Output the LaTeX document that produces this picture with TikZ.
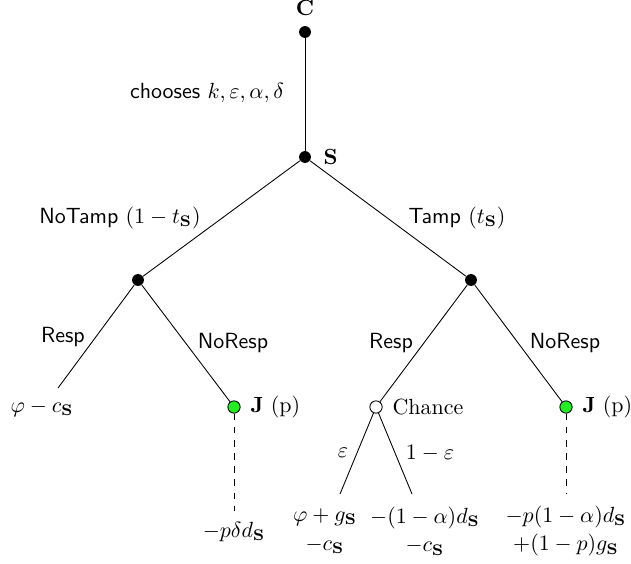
\documentclass[tikz,border=0pt]{standalone}
\usepackage{amsmath}
\usetikzlibrary{positioning}
\definecolor{jugGreen}{HTML}{22EE22}

\tikzset{
  decision/.style={circle, fill=black, inner sep=0pt, minimum size=5.4pt},
  chancenode/.style={circle, draw=black, fill=white, inner sep=0pt, minimum size=5.6pt},
  judge/.style={circle, draw=black, fill=jugGreen, inner sep=0pt, minimum size=5.6pt},
  movelabel/.style={font=\sffamily},
  payoff/.style={align=center, inner sep=1pt}
}

\begin{document}
\begin{tikzpicture}[x=0.016cm, y=-0.016cm]
    \useasboundingbox (0,0) rectangle (631,563);
    % players
    \node[decision] (C) at (305,32) {};
    \node[decision] (S) at (305,157) {};
    \node[above=1pt of C] {$\mathbf{C}$};
    \node[right=2pt of S] {$\mathbf{S}$};
    \draw (C) -- (S);
    \node[movelabel] at (207,93) {chooses $k,\varepsilon,\alpha,\delta$};

    % tamper or not
    \node[decision] (NT) at (138,280) {};
    \node[decision] (T) at (471,280) {};
    \draw (S) -- (NT);
    \draw (S) -- (T);
    \node[movelabel] at (120,218) {NoTamp $(1-t_{\mathbf{S}})$};
    \node[movelabel] at (457,218) {Tamp $(t_{\mathbf{S}})$};

    % responses
    \coordinate (NTR) at (58,388);
    \node[judge] (J1) at (234,407) {};
    \node[chancenode] (Ch) at (376,407) {};
    \node[judge] (J2) at (566,407) {};
    \draw (NT) -- (NTR);
    \draw (NT) -- (J1);
    \draw (T) -- (Ch);
    \draw (T) -- (J2);
    \foreach \x/\y/\t in {63/337/Resp, 233/343/NoResp, 391/343/Resp, 565/343/NoResp}
      \node[movelabel] at (\x,\y) {\t};
    \node[right=1pt of J1] {$\mathbf{J}$ (p)};
    \node[right=1pt of J2] {$\mathbf{J}$ (p)};
    \node[right=1pt of Ch] {Chance};

    % chance outcomes
    \coordinate (ChE) at (340,494);
    \coordinate (ChN) at (412,494);
    \draw (Ch) -- (ChE);
    \draw (Ch) -- (ChN);
    \node at (343,453) {$\varepsilon$};
    \node at (430,453) {$1-\varepsilon$};

    % judge outcomes
    \coordinate (J1E) at (234,511);
    \coordinate (J2E) at (566,494);
    \draw[dashed] (J1) -- (J1E);
    \draw[dashed] (J2) -- (J2E);

    % payoffs
    \node[payoff] at (42,408) {$\varphi-c_{\mathbf{S}}$};
    \node[payoff] at (234,532) {$-p\delta d_{\mathbf{S}}$};
    \node[payoff] at (325,531) {$\varphi+g_{\mathbf{S}}$\\[1pt]$-c_{\mathbf{S}}$};
    \node[payoff] at (425,531) {$-(1-\alpha)d_{\mathbf{S}}$\\[1pt]$-c_{\mathbf{S}}$};
    \node[payoff] at (566,531) {$-p(1-\alpha)d_{\mathbf{S}}$\\[1pt]$+(1-p)g_{\mathbf{S}}$};
\end{tikzpicture}
\end{document}
